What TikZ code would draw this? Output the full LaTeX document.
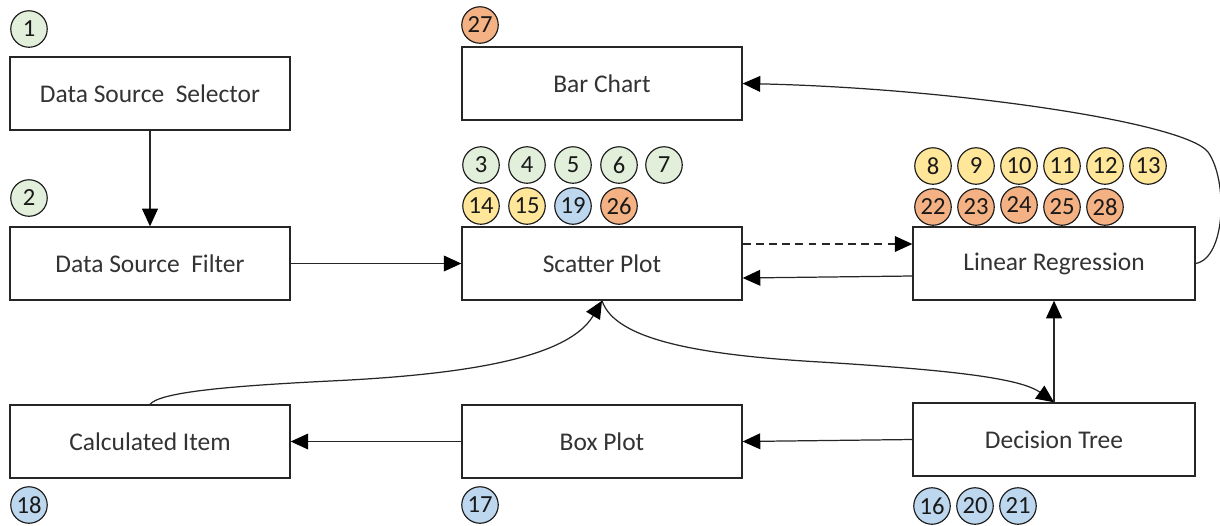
\documentclass[tikz,border=0pt]{standalone}
\usepackage{fontspec}
\setmainfont{Carlito}
\usetikzlibrary{arrows.meta}
\definecolor{cgreen}{HTML}{E2EFDA}
\definecolor{cyellow}{HTML}{FFE699}
\definecolor{cblue}{HTML}{BDD7EE}
\definecolor{corange}{HTML}{F4B183}
\definecolor{txt}{HTML}{333333}
\begin{document}
\begin{tikzpicture}[x=0.02cm,y=-0.02cm,
  box/.style={draw=black!85,line width=0.8pt,fill=white,minimum width=5.6cm,minimum height=1.46cm,inner sep=0pt,text=txt,font=\fontsize{14.5}{16}\selectfont},
  badge/.style={circle,draw=black!90,line width=0.65pt,minimum size=0.73cm,inner sep=0pt,font=\fontsize{14}{15}\selectfont,text=black!90},
  bg/.style={badge,fill=cgreen},
  by/.style={badge,fill=cyellow},
  bb/.style={badge,fill=cblue},
  bo/.style={badge,fill=corange},
  conn/.style={line width=0.7pt,draw=black!85,-{Triangle[length=10pt,width=9pt,color=black]}}]
\useasboundingbox (0,0) rectangle (1220,525);
% boxes
\node[box] (sel) at (150,93.5) {Data Source\ \ Selector};
\node[box] (fil) at (150,263.5) {Data Source\ \ Filter};
\node[box] (bc) at (602,83.5) {Bar Chart};
\node[box] (sc) at (602,263.5) {Scatter Plot};
\node[box,minimum width=5.64cm] (lr) at (1054,263.5) {Linear Regression};
\node[box] (ci) at (150,441.5) {Calculated Item};
\node[box] (bp) at (602,441.5) {Box Plot};
\node[box,minimum width=5.64cm] (dt) at (1054,439.5) {Decision Tree};
% badges
\node[bg] (n1) at (29,29) {1};
\node[bg] (n2) at (29,198) {2};
\node[bo] (n27) at (480,25) {27};
\node[bg] (n3) at (481,165) {3};
\node[bg] (n4) at (527,165) {4};
\node[bg] (n5) at (573,165) {5};
\node[bg] (n6) at (619,165) {6};
\node[bg] (n7) at (664,165) {7};
\node[by] (n14) at (481,206) {14};
\node[by] (n15) at (527,206) {15};
\node[bb] (n19) at (573,206) {19};
\node[bo] (n26) at (619,206) {26};
\node[by] (n8) at (933,166) {8};
\node[by] (n9) at (976,166) {9};
\node[by] (n10) at (1019,166) {10};
\node[by] (n11) at (1062,166) {11};
\node[by] (n12) at (1105,166) {12};
\node[by] (n13) at (1148,166) {13};
\node[bo] (n22) at (933,207) {22};
\node[bo] (n23) at (976,207) {23};
\node[bo] (n24) at (1019,205) {24};
\node[bo] (n25) at (1062,207) {25};
\node[bo] (n28) at (1105,207) {28};
\node[bb] (n18) at (29,505) {18};
\node[bb] (n17) at (480,505) {17};
\node[bb] (n16) at (932,506) {16};
\node[bb] (n20) at (975,506) {20};
\node[bb] (n21) at (1018,506) {21};
% connectors
\draw[conn] (sel) -- (fil);
\draw[conn] (fil) -- (sc);
\draw[conn,dash pattern=on 4.5pt off 3pt] ([yshift=0.39cm]sc.east) -- ([yshift=0.39cm]lr.west);
\draw[conn] ([yshift=-0.25cm]lr.west) -- ([yshift=-0.29cm]sc.east);
\draw[conn] (lr.east) .. controls (1226,258) and (1228,180) .. (1208,152)
  .. controls (1185,122) and (950,88) .. (bc.east);
\draw[conn] (sc.south) .. controls (615,340) and (700,355) .. (820,362)
  .. controls (950,370) and (1020,378) .. (dt.north);
\draw[conn] (dt.north) -- (lr.south);
\draw[conn] (dt.west) -- (bp.east);
\draw[conn] (bp.west) -- (ci.east);
\draw[conn] (ci.north) .. controls (160,392) and (230,386) .. (330,381)
  .. controls (480,374) and (570,355) .. (sc.south);
\end{tikzpicture}
\end{document}
